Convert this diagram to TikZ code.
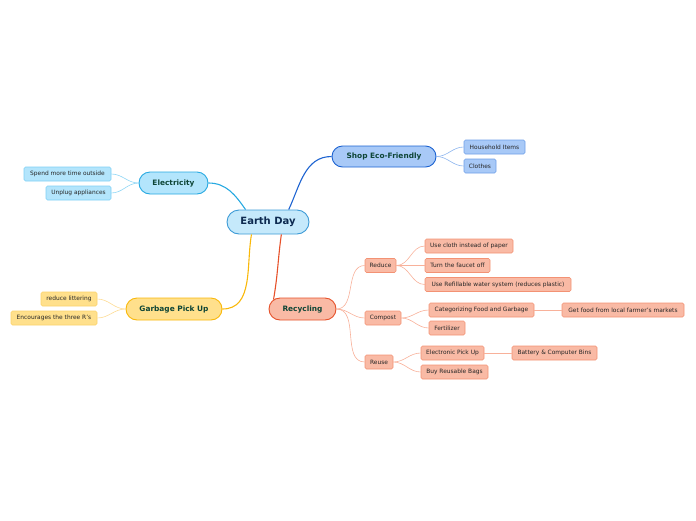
\documentclass[tikz,border=0pt]{standalone}
\usepackage{fontspec}
\setmainfont{DejaVu Sans}
\usetikzlibrary{shapes.misc}
\definecolor{edfill}{HTML}{C5E9FB}\definecolor{edline}{HTML}{3D9BD6}\definecolor{edtext}{HTML}{0D2A50}
\definecolor{elfill}{HTML}{B3E5FC}\definecolor{elline}{HTML}{27A9E1}\definecolor{ellleaf}{HTML}{7FD0F5}\definecolor{eledge}{HTML}{8FD6F5}
\definecolor{shfill}{HTML}{A8C9F7}\definecolor{shline}{HTML}{1D63D1}\definecolor{shleaf}{HTML}{6F9FE8}\definecolor{shedge}{HTML}{8CB4EE}
\definecolor{refill}{HTML}{F9BAA5}\definecolor{reline}{HTML}{E6512A}\definecolor{releaf}{HTML}{F39274}\definecolor{reedge}{HTML}{F8B19A}
\definecolor{gafill}{HTML}{FFE08C}\definecolor{galine}{HTML}{F9B80A}\definecolor{galeaf}{HTML}{FBD26A}\definecolor{gaedge}{HTML}{FDDC95}
\definecolor{brtext}{HTML}{0E4536}\definecolor{lftext}{HTML}{262626}
\begin{document}
\begin{tikzpicture}[x=1pt,y=-1pt,
  central/.style={rounded rectangle,draw=edline,fill=edfill,line width=0.9pt,text=edtext,font=\fontsize{10}{12}\selectfont\bfseries,minimum width=82pt,minimum height=24pt,inner sep=0pt},
  branch/.style={rounded rectangle,line width=0.9pt,text=brtext,font=\fontsize{7.4}{9}\selectfont\bfseries,minimum height=22pt,inner sep=0pt},
  leaf/.style={rectangle,rounded corners=1.5pt,line width=0.6pt,text=lftext,font=\fontsize{5.9}{7}\selectfont,minimum height=14pt,inner sep=0pt},
  eleaf/.style={leaf,draw=ellleaf,fill=elfill},
  sleaf/.style={leaf,draw=shleaf,fill=shfill},
  rleaf/.style={leaf,draw=releaf,fill=refill},
  gleaf/.style={leaf,draw=galeaf,fill=gafill},
  eline/.style={draw=eledge,line width=0.6pt},
  sline/.style={draw=shedge,line width=0.6pt},
  rline/.style={draw=reedge,line width=0.6pt},
  gline/.style={draw=gaedge,line width=0.6pt}]
\useasboundingbox (0,0) rectangle (696,520);
% central
\node[central] (ed) at (268,222) {Earth Day};
% branches
\node[branch,draw=elline,fill=elfill,minimum width=69pt] (el) at (173.5,183) {Electricity};
\node[branch,draw=shline,fill=shfill,minimum width=104pt,minimum height=21pt] (sh) at (384,156.5) {Shop Eco-Friendly};
\node[branch,draw=reline,fill=refill,minimum width=67pt] (re) at (302.5,309) {Recycling};
\node[branch,draw=galine,fill=gafill,minimum width=96pt] (ga) at (174,309) {Garbage Pick Up};
% main connectors
\draw[elline,line width=1.1pt] (ed.151) to[out=125,in=0] (el.east);
\draw[shline,line width=1.1pt] (ed.31) to[out=65,in=180] (sh.west);
\draw[galine,line width=1.1pt] (ed.217) to[out=-100,in=0] (ga.east);
\draw[reline,line width=1.1pt] (ed.317) to[out=-98,in=80] (re.162);
% electricity leaves
\node[eleaf,minimum width=87pt] (e1) at (67.5,174) {Spend more time outside};
\node[eleaf,minimum width=65pt] (e2) at (78.5,193) {Unplug appliances};
\draw[eline] (el.west) to[out=180,in=0] (e1.east);
\draw[eline] (el.west) to[out=180,in=0] (e2.east);
% shop leaves
\node[sleaf,minimum width=61pt] (s1) at (494.5,147) {Household Items};
\node[sleaf,minimum width=32pt] (s2) at (480,166) {Clothes};
\draw[sline] (sh.east) to[out=0,in=180] (s1.west);
\draw[sline] (sh.east) to[out=0,in=180] (s2.west);
% garbage leaves
\node[gleaf,minimum width=56pt] (g1) at (69,299) {reduce littering};
\node[gleaf,minimum width=86pt] (g2) at (54,318) {Encourages the three R's};
\draw[gline] (ga.west) to[out=180,in=0] (g1.east);
\draw[gline] (ga.west) to[out=180,in=0] (g2.east);
% recycling subtree
\node[rleaf,minimum width=31pt] (rd) at (380.5,265.5) {Reduce};
\node[rleaf,minimum width=36pt] (cp) at (383,318) {Compost};
\node[rleaf,minimum width=28pt] (ru) at (379,362) {Reuse};
\draw[rline] (re.east) to[out=0,in=180] (rd.west);
\draw[rline] (re.east) to[out=0,in=180] (cp.west);
\draw[rline] (re.east) to[out=0,in=180] (ru.west);
\node[rleaf,minimum width=88pt] (r1) at (469,246) {Use cloth instead of paper};
\node[rleaf,minimum width=65pt] (r2) at (457.5,265.5) {Turn the faucet off};
\node[rleaf,minimum width=146pt] (r3) at (498,284.5) {Use Refillable water system (reduces plastic)};
\draw[rline] (rd.east) to[out=0,in=180] (r1.west);
\draw[rline] (rd.east) to[out=0,in=180] (r2.west);
\draw[rline] (rd.east) to[out=0,in=180] (r3.west);
\node[rleaf,minimum width=105pt] (c1) at (481.5,310) {Categorizing Food and Garbage};
\node[rleaf,minimum width=36pt] (c2) at (447,328) {Fertilizer};
\node[rleaf,minimum width=122pt] (c3) at (623,310) {Get food from local farmer's markets};
\draw[rline] (cp.east) to[out=0,in=180] (c1.west);
\draw[rline] (cp.east) to[out=0,in=180] (c2.west);
\draw[rline] (c1.east) -- (c3.west);
\node[rleaf,minimum width=63pt] (u1) at (452.5,353) {Electronic Pick Up};
\node[rleaf,minimum width=67pt] (u2) at (454.5,372) {Buy Reusable Bags};
\node[rleaf,minimum width=85pt] (u3) at (554.5,353) {Battery \& Computer Bins};
\draw[rline] (ru.east) to[out=0,in=180] (u1.west);
\draw[rline] (ru.east) to[out=0,in=180] (u2.west);
\draw[rline] (u1.east) -- (u3.west);
\end{tikzpicture}
\end{document}
